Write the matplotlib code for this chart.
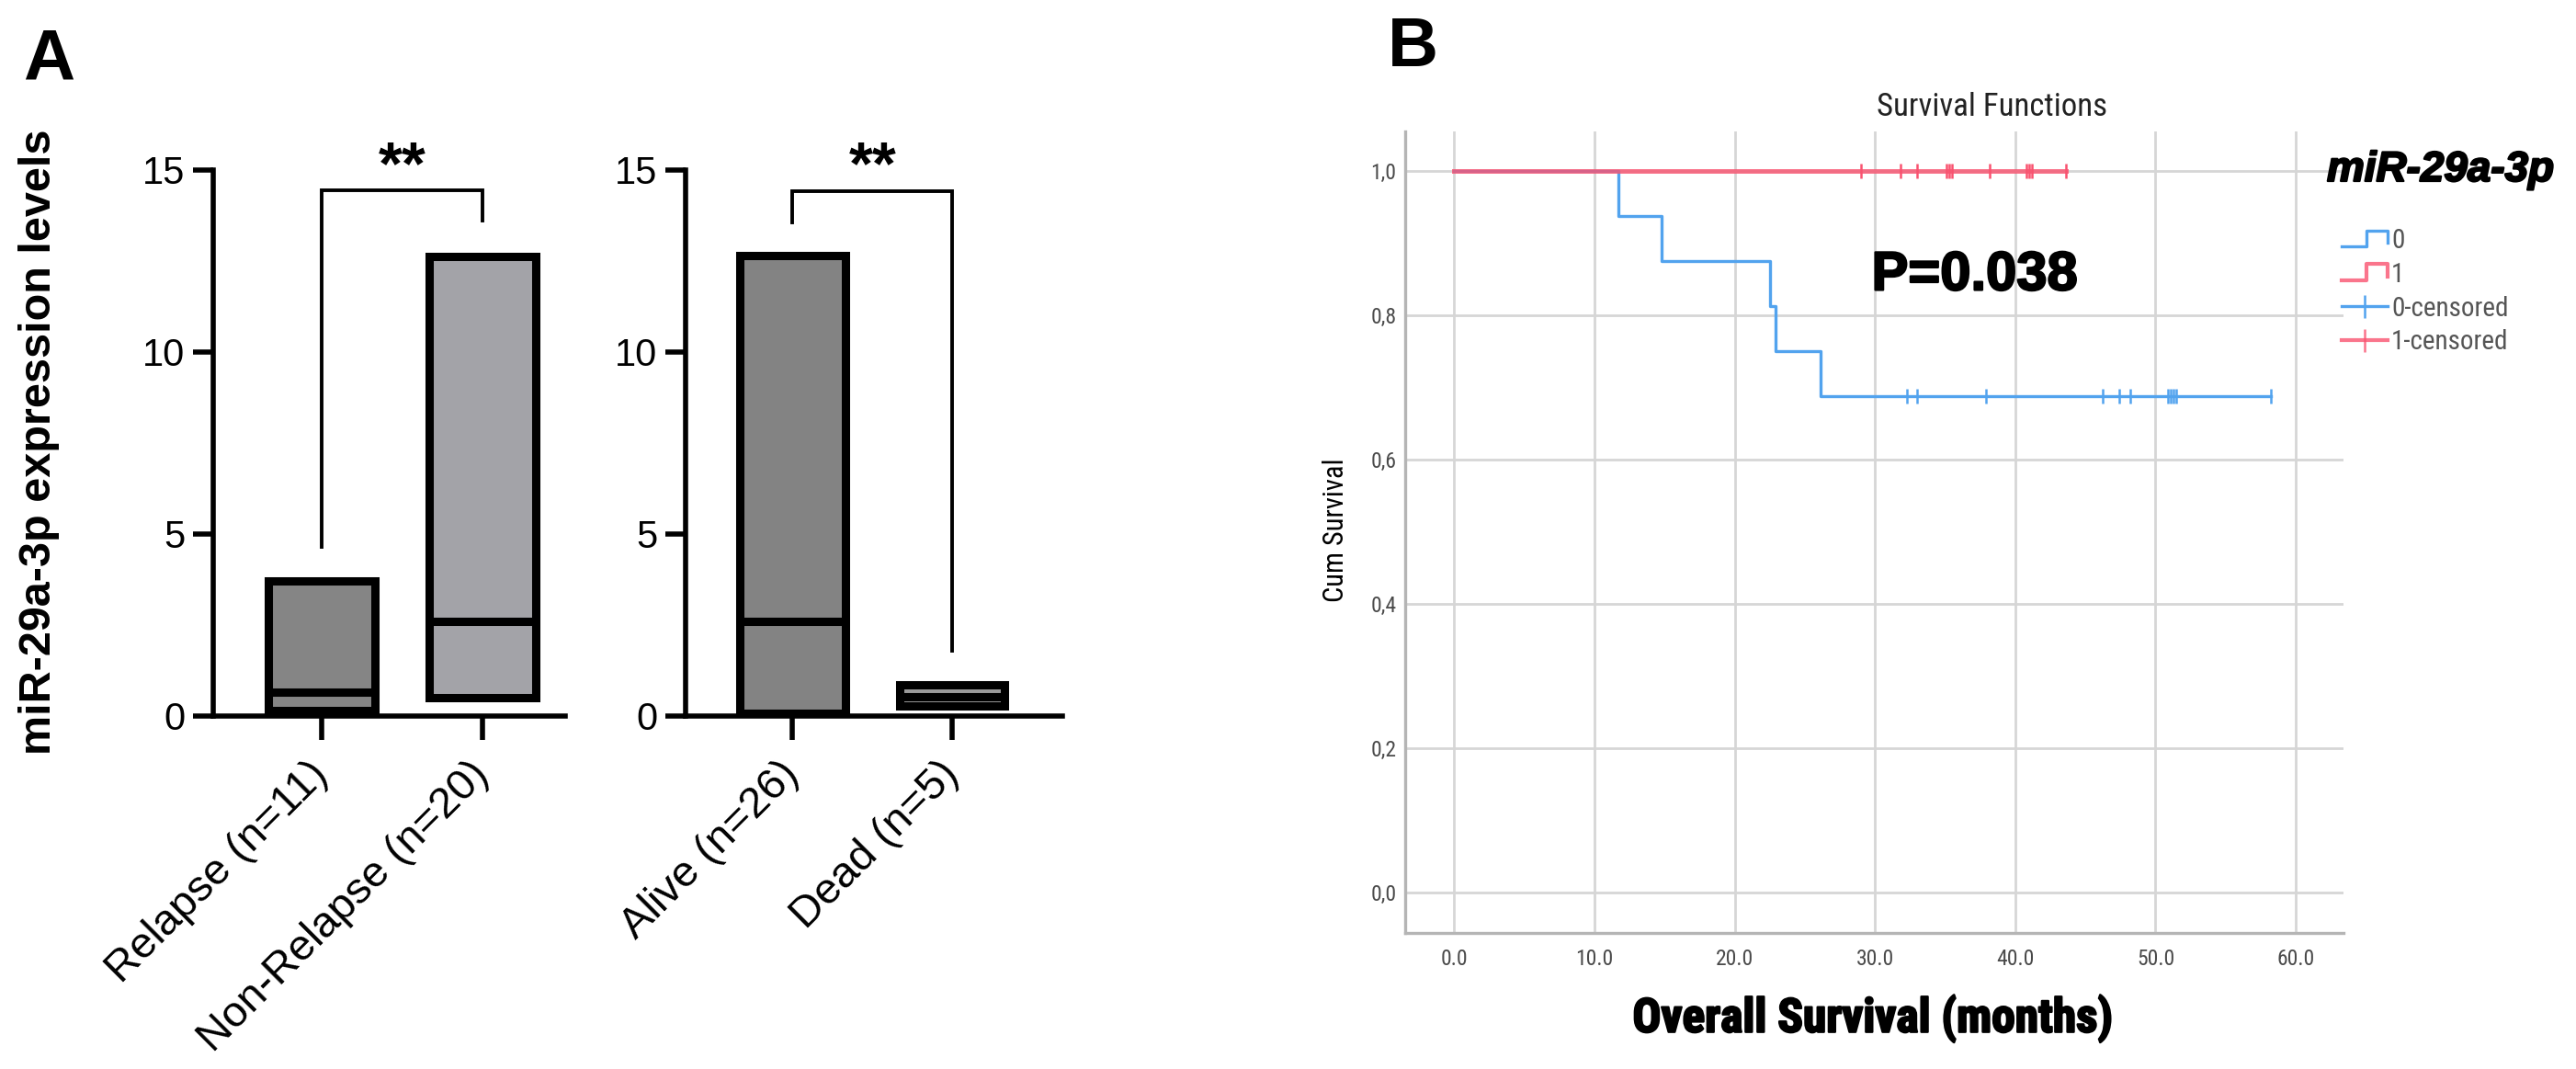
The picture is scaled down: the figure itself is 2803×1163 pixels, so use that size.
import numpy as np
import matplotlib
matplotlib.use('Agg')
import matplotlib.pyplot as plt
from matplotlib import font_manager
from matplotlib import patheffects
from matplotlib.lines import Line2D
from matplotlib.legend_handler import HandlerLine2D

# panel A - floating bars (min..max, line at median)
relapse_groups = ['Relapse (n=11)', 'Non-Relapse (n=20)']
relapse_min = [0.15, 0.50]
relapse_median = [0.66, 2.60]
relapse_max = [3.72, 12.62]
relapse_fill = ['#858585', '#a3a3a8']
relapse_bracket = [4.64, 14.44, 13.60]   # left leg end, top, right leg end

status_groups = ['Alive (n=26)', 'Dead (n=5)']
status_min = [0.08, 0.27]
status_median = [2.59, 0.54]
status_max = [12.64, 0.86]
status_fill = ['#838383', '#9a9a9a']
status_bracket = [13.57, 14.43, 1.80]

# panel B - Kaplan-Meier steps
km0_time = [0, 11.7, 14.8, 22.5, 22.9, 26.1, 58.2]
km0_surv = [1.0, 0.9375, 0.875, 0.8125, 0.75, 0.6875, 0.6875]
km0_censored = [32.3, 33.0, 37.9, 46.2, 47.4, 48.2, 50.9, 51.1, 51.3, 51.5, 58.2]
km1_time = [0, 43.6]
km1_surv = [1.0, 1.0]
km1_censored = [29.0, 31.8, 33.0, 35.1, 35.3, 35.5, 38.2, 40.8, 41.0, 41.2, 43.6]

km_labels = ['0', '1', '0-censored', '1-censored']
x_ticks = [0, 10, 20, 30, 40, 50, 60]
y_ticks = [0.0, 0.2, 0.4, 0.6, 0.8, 1.0]

BLUE = '#52a3ee'
RED = '#f9526f'

# SPSS output uses a condensed face - take one if the box has it
names = {f.name for f in font_manager.fontManager.ttflist}
narrow = 'Liberation Sans'
for cand in ['Liberation Sans Narrow', 'DejaVu Sans Condensed', 'Roboto Condensed',
             'Open Sans Condensed']:
    if cand in names:
        narrow = cand
        break
plt.rcParams['font.family'] = ['Liberation Sans', 'DejaVu Sans']

W, H = 2803, 1163
fig = plt.figure(figsize=(W / 100, H / 100), dpi=100)
heavy = [patheffects.withStroke(linewidth=1.6, foreground='black')]


def px_box(x0, x1, ytop, ybot):
    return [x0 / W, 1 - ybot / H, (x1 - x0) / W, (ybot - ytop) / H]


def floating_bars(ax, labels, lo, med, hi, fills, bracket, xmax):
    x = np.arange(len(labels))
    bars = ax.bar(x, np.subtract(hi, lo), bottom=lo, width=0.66, color=fills,
                  edgecolor='black', linewidth=6.5, zorder=3)
    for b in bars:
        b.set_clip_on(False)
    ax.hlines(med, x - 0.33, x + 0.33, colors='black', linewidth=6.5, zorder=4)
    ax.plot([0, 0, 1, 1], [bracket[0], bracket[1], bracket[1], bracket[2]],
            color='black', lw=2.8, clip_on=False, solid_joinstyle='miter')
    ax.text(0.5, 15.05, '**', ha='center', va='center', fontsize=48,
            fontweight='bold', clip_on=False)
    ax.set_xlim(-0.67, xmax)
    ax.set_ylim(0, 15)
    ax.set_yticks([0, 5, 10, 15])
    ax.set_xticks(x)
    ax.set_xticklabels(labels, rotation=45, ha='right', va='center',
                       rotation_mode='anchor')
    for s in ['top', 'right']:
        ax.spines[s].set_visible(False)
    ax.spines['left'].set_linewidth(4)
    ax.spines['left'].set_bounds(0, 15)
    ax.spines['bottom'].set_linewidth(4)
    ax.tick_params(axis='y', length=16, width=4, labelsize=30, pad=6)
    ax.tick_params(axis='x', length=19, width=4, labelsize=34, pad=22)


ax1 = fig.add_axes(px_box(232, 615, 185, 779))
floating_bars(ax1, relapse_groups, relapse_min, relapse_median, relapse_max,
              relapse_fill, relapse_bracket, 1.51)
ax2 = fig.add_axes(px_box(746, 1156, 185, 779))
floating_bars(ax2, status_groups, status_min, status_median, status_max,
              status_fill, status_bracket, 1.69)

fig.text(43 / W, 1 - 481 / H, 'miR-29a-3p expression levels', rotation=90,
         ha='center', va='center', fontsize=35, fontweight='bold')
fig.text(25 / W, 1 - 29 / H, 'A', ha='left', va='top', fontsize=56, fontweight='bold')

# panel B
axb = fig.add_axes(px_box(1529, 2550, 143, 1015))
axb.step(km0_time, km0_surv, where='post', color=BLUE, lw=2.4, zorder=3)
axb.step(km1_time, km1_surv, where='post', color=RED, lw=3.6, alpha=0.8, zorder=4)

idx0 = np.searchsorted(km0_time, km0_censored, side='right') - 1
axb.plot(km0_censored, np.array(km0_surv)[idx0], ls='none', marker='|', ms=11,
         mew=1.8, color=BLUE, zorder=5)
idx1 = np.searchsorted(km1_time, km1_censored, side='right') - 1
axb.plot(km1_censored, np.array(km1_surv)[idx1], ls='none', marker='|', ms=11,
         mew=1.8, color=RED, zorder=5)

axb.set_xlim(-3.5, 63.4)
axb.set_ylim(-0.056, 1.055)
axb.set_xticks(x_ticks)
axb.set_xticklabels(['%.1f' % v for v in x_ticks], fontfamily=narrow)
axb.set_yticks(y_ticks)
axb.set_yticklabels([('%.1f' % v).replace('.', ',') for v in y_ticks], fontfamily=narrow)
axb.grid(color='#d6d6d6', lw=2)
axb.set_axisbelow(True)
for s in ['top', 'right']:
    axb.spines[s].set_visible(False)
for s in ['left', 'bottom']:
    axb.spines[s].set_color('#b5b5b5')
    axb.spines[s].set_linewidth(2.4)
axb.tick_params(length=0, labelsize=17, labelcolor='#4a4a4a')
axb.tick_params(axis='y', pad=7)
axb.tick_params(axis='x', pad=12)

axb.text(37.1, 0.855, 'P=0.038', ha='center', va='center', fontsize=43,
         fontweight='bold', path_effects=heavy)

fig.text(2167 / W, 1 - 116 / H, 'Survival Functions', ha='center', va='center',
         fontsize=25, fontfamily=narrow, color='#222222')
fig.text(1453 / W, 1 - 577 / H, 'Cum Survival', rotation=90, ha='center',
         va='center', fontsize=22, fontfamily=narrow)
fig.text(2038 / W, 1 - 1108 / H, 'Overall Survival (months)', ha='center',
         va='center', fontsize=37, fontfamily=narrow, fontweight='bold',
         path_effects=heavy)
fig.text(1510 / W, 1 - 72 / H, 'B', ha='left', va='baseline', fontsize=55,
         fontweight='bold')


class StepHandler(HandlerLine2D):
    def create_artists(self, legend, orig_handle, xdescent, ydescent, width,
                       height, fontsize, trans):
        xs = np.array([0, 0.55, 0.55, 1.0, 1.0]) * width - xdescent
        ys = np.array([0.1, 0.1, 0.95, 0.95, 0.3]) * height - ydescent
        line = Line2D(xs, ys)
        self.update_prop(line, orig_handle, legend)
        line.set_transform(trans)
        return [line]


h0 = Line2D([], [], color=BLUE, lw=2.4)
h1 = Line2D([], [], color=RED, lw=3.0, alpha=0.8)
h0c = Line2D([], [], color=BLUE, lw=2.4, marker='|', ms=18, mew=1.8)
h1c = Line2D([], [], color=RED, lw=3.0, alpha=0.8, marker='|', ms=18, mew=1.8)
axb.legend([h0, h1, h0c, h1c], km_labels, handler_map={h0: StepHandler(), h1: StepHandler()},
           loc='upper left', bbox_to_anchor=(2548 / W, 1 - 248 / H),
           bbox_transform=fig.transFigure, frameon=False,
           prop={'family': narrow, 'size': 21}, labelcolor='#555555',
           handlelength=1.7, handletextpad=0.15, labelspacing=0.3,
           borderpad=0, borderaxespad=0, numpoints=1)

fig.text(2532 / W, 1 - 185 / H, 'miR-29a-3p', ha='left', va='center',
         fontsize=33, fontweight='bold', fontstyle='italic', path_effects=heavy)

fig.savefig('out.png', dpi=100)
